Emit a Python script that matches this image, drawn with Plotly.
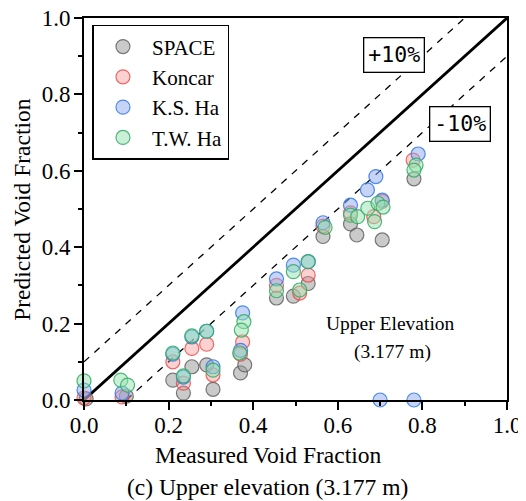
import plotly.graph_objects as go

# ---- data (measured x, predicted y) ----
space_x = [0.005, 0.10, 0.21, 0.235, 0.255, 0.29, 0.305, 0.37, 0.38, 0.455, 0.495, 0.53, 0.565, 0.63, 0.645, 0.705, 0.78]
space_y = [0.003, 0.010, 0.052, 0.018, 0.087, 0.092, 0.028, 0.071, 0.092, 0.267, 0.272, 0.305, 0.428, 0.461, 0.432, 0.419, 0.579]

koncar_x = [0.0, 0.09, 0.21, 0.235, 0.255, 0.29, 0.305, 0.375, 0.37, 0.455, 0.53, 0.51, 0.565, 0.63, 0.685, 0.705, 0.778]
koncar_y = [0.005, 0.008, 0.100, 0.044, 0.135, 0.146, 0.066, 0.152, 0.120, 0.300, 0.327, 0.280, 0.455, 0.490, 0.480, 0.520, 0.628]

ksha_x = [0.0, 0.09, 0.21, 0.235, 0.255, 0.29, 0.305, 0.375, 0.37, 0.455, 0.495, 0.53, 0.565, 0.63, 0.67, 0.69, 0.705, 0.79, 0.70, 0.78]
ksha_y = [0.026, 0.018, 0.120, 0.060, 0.165, 0.180, 0.087, 0.228, 0.130, 0.317, 0.353, 0.362, 0.464, 0.510, 0.550, 0.585, 0.523, 0.644, 0.0, 0.0]

twha_x = [0.0, 0.087, 0.103, 0.21, 0.235, 0.255, 0.29, 0.305, 0.378, 0.372, 0.368, 0.455, 0.495, 0.51, 0.53, 0.57, 0.63, 0.647, 0.671, 0.687, 0.695, 0.707, 0.785, 0.78]
twha_y = [0.050, 0.052, 0.039, 0.123, 0.063, 0.168, 0.180, 0.078, 0.205, 0.183, 0.123, 0.286, 0.336, 0.288, 0.362, 0.452, 0.484, 0.480, 0.502, 0.467, 0.515, 0.505, 0.615, 0.602]

ref_x = [0.0, 1.0]
ref_y = [0.0, 1.0]
plus_x = [0.0, 0.9]
plus_y = [0.1, 1.0]
minus_x = [0.1, 1.0]
minus_y = [0.0, 0.9]

ticks = [0.0, 0.2, 0.4, 0.6, 0.8, 1.0]
tick_text = ["0.0", "0.2", "0.4", "0.6", "0.8", "1.0"]

SERIF = "Liberation Serif, Times New Roman, serif"
MONO = "DejaVu Sans Mono, monospace"

fig = go.Figure()

fig.add_trace(go.Scatter(x=plus_x, y=plus_y, mode="lines", line=dict(color="black", width=1.3, dash="7px,7px"),
                         showlegend=False, hoverinfo="skip"))
fig.add_trace(go.Scatter(x=minus_x, y=minus_y, mode="lines", line=dict(color="black", width=1.3, dash="7px,7px"),
                         showlegend=False, hoverinfo="skip"))
fig.add_trace(go.Scatter(x=ref_x, y=ref_y, mode="lines", line=dict(color="black", width=2.8),
                         showlegend=False, hoverinfo="skip"))

series = [
    ("SPACE", space_x, space_y, "rgba(150,150,150,0.5)", "rgba(90,90,90,0.8)"),
    ("Koncar", koncar_x, koncar_y, "rgba(245,140,140,0.4)", "rgba(235,70,70,0.8)"),
    ("K.S. Ha", ksha_x, ksha_y, "rgba(140,170,240,0.5)", "rgba(50,120,230,0.85)"),
    ("T.W. Ha", twha_x, twha_y, "rgba(150,225,175,0.5)", "rgba(50,170,100,0.85)"),
]
for name, xs, ys, fill, edge in series:
    fig.add_trace(go.Scatter(x=xs, y=ys, mode="markers", name=name, cliponaxis=False,
                             marker=dict(size=14, color=fill, line=dict(color=edge, width=1.2))))

axis_common = dict(range=[0, 1], tickvals=ticks, ticktext=tick_text, ticks="outside", ticklen=8,
                   tickwidth=1.5, tickcolor="black", showline=True, linecolor="black", linewidth=2,
                   mirror=True, showgrid=False, zeroline=False, automargin=False,
                   ticklabeloverflow="allow",
                   tickfont=dict(family=SERIF, size=23, color="black"),
                   minor=dict(dtick=0.1, ticks="outside", ticklen=4, tickwidth=1.5, tickcolor="black"))

# the page body adds an 8px margin, so the figure is made 8px smaller
fig.update_layout(
    width=518, height=493,
    margin=dict(l=76, r=19, t=10, b=101),
    plot_bgcolor="white", paper_bgcolor="white",
    xaxis=dict(**axis_common, ticklabelstandoff=-5),
    yaxis=dict(**axis_common, ticklabelstandoff=-1),
    legend=dict(x=0.02, y=0.982, xanchor="left", yanchor="top", bgcolor="white", bordercolor="black",
                borderwidth=1.5, font=dict(family=SERIF, size=21, color="black"), tracegroupgap=0,
                itemwidth=48),
    showlegend=True,
)

# axis titles and caption
fig.add_annotation(x=0.435, y=-0.144, xref="paper", yref="paper", text="Measured Void Fraction",
                   xanchor="center", yanchor="middle",
                   showarrow=False, font=dict(family=SERIF, size=23.5, color="black"))
fig.add_annotation(x=-0.147, y=0.50, xref="paper", yref="paper", text="Predicted Void Fraction",
                   xanchor="center", yanchor="middle",
                   showarrow=False, textangle=-90, font=dict(family=SERIF, size=23.5, color="black"))
fig.add_annotation(x=0.433, y=-0.228, xref="paper", yref="paper", text="(c) Upper elevation (3.177 m)",
                   xanchor="center", yanchor="middle",
                   showarrow=False, font=dict(family=SERIF, size=23.5, color="black"))

fig.add_annotation(x=0.734, y=0.902, xref="x", yref="y", text="+10%", showarrow=False,
                   font=dict(family=MONO, size=21.5, color="black"), bgcolor="white",
                   bordercolor="black", borderwidth=1.3, borderpad=4)
fig.add_annotation(x=0.890, y=0.722, xref="x", yref="y", text="-10%", showarrow=False,
                   font=dict(family=MONO, size=21.5, color="black"), bgcolor="white",
                   bordercolor="black", borderwidth=1.3, borderpad=4)
fig.add_annotation(x=0.725, y=0.20, xref="x", yref="y", text="Upper Elevation", showarrow=False,
                   font=dict(family=SERIF, size=19.5, color="black"))
fig.add_annotation(x=0.73, y=0.125, xref="x", yref="y", text="(3.177 m)", showarrow=False,
                   font=dict(family=SERIF, size=19.5, color="black"))

fig.write_html("out.html")
